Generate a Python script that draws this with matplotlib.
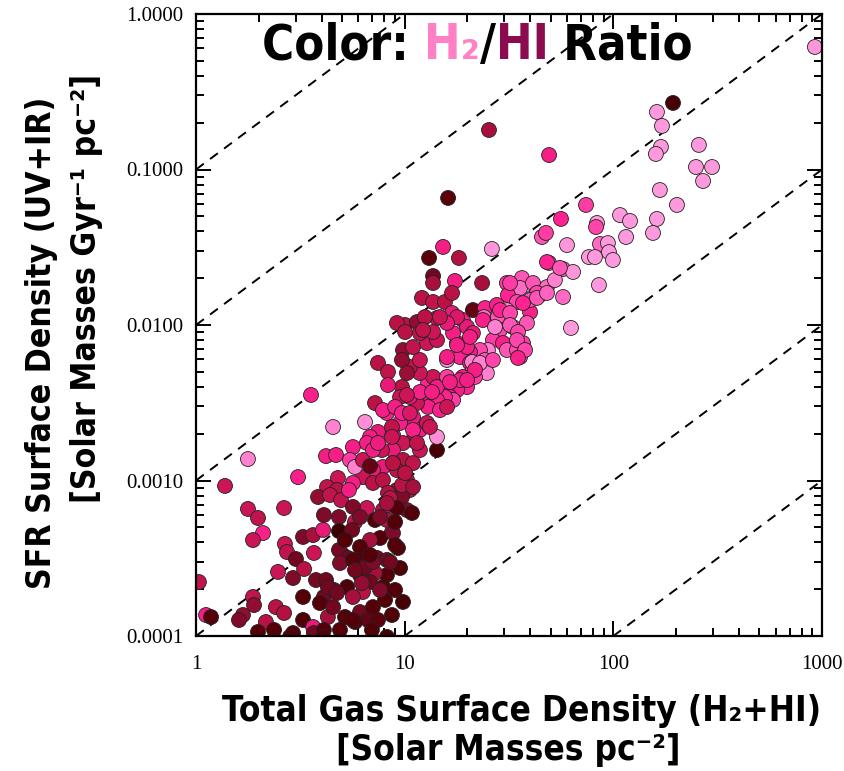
import numpy as np
import matplotlib
matplotlib.use("Agg")
import matplotlib.pyplot as plt
from matplotlib import transforms, font_manager
from matplotlib.font_manager import FontProperties
from matplotlib.colors import LinearSegmentedColormap

# log10 gas surface density, log10 SFR surface density, H2/HI colour level (0 = HI-dominated, 1 = H2-dominated)
log_gas = [2.966, 2.286, 2.209, 2.233, 2.228, 2.204, 2.410, 2.396, 2.473, 2.430,
           2.223, 2.305, 2.209, 2.190, 2.032, 2.080, 2.061, 1.922, 1.917, 1.869,
           1.936, 1.974, 1.979, 1.998, 1.883, 1.912, 1.931, 1.797, 1.749, 1.658,
           1.677, 1.778, 1.692, 1.759, 1.807, 1.418, 1.404, 1.692, 1.208, 1.184,
           1.117, 1.260, 1.136, 1.136, 1.241, 1.371, 1.083, 1.136, 1.193, 1.227,
           1.002, 1.059, 1.155, 1.227, 1.279, 1.327, 1.385, 1.380, 1.442, 1.490,
           1.562, 1.553, 1.615, 1.682, 1.720, 1.759, 1.495, 1.615, 1.648, 1.538,
           1.601, 1.490, 1.447, 1.682, 1.744, 1.634, 1.601, 1.567, 1.505, 1.457,
           1.505, 1.519, 1.586, 1.457, 1.423, 1.471, 1.490, 1.538, 1.553, 1.567,
           1.399, 1.361, 1.385, 1.313, 1.265, 1.313, 1.327, 1.394, 1.279, 1.299,
           1.251, 1.203, 1.251, 1.299, 1.299, 1.251, 1.327, 1.203, 1.217, 1.232,
           1.193, 1.155, 1.112, 1.169, 1.203, 1.088, 1.059, 1.025, 1.112, 1.136,
           1.155, 1.073, 1.025, 1.073, 0.992, 1.040, 1.107, 1.155, 0.987, 1.011,
           0.987, 0.978, 1.097, 1.073, 1.136, 0.963, 1.155, 1.155, 1.073, 1.107,
           1.040, 1.073, 1.040, 0.992, 0.944, 0.891, 0.992, 1.040, 0.944, 0.896,
           0.848, 0.800, 0.848, 0.896, 0.963, 1.011, 1.025, 0.963, 0.920, 0.987,
           1.011, 1.035, 0.872, 0.915, 0.944, 0.978, 0.810, 0.858, 0.896, 0.872,
           0.920, 0.920, 1.002, 1.232, 0.657, 0.551, 0.249, 0.489, 0.623, 0.671,
           0.139, 0.834, 0.752, 0.819, 0.738, 0.762, 0.800, 0.680, 0.752, 0.628,
           0.676, 0.585, 0.642, 0.695, 0.733, 0.819, 0.762, 0.896, 0.930, 0.987,
           0.963, 0.915, 0.858, 0.939, 0.882, 0.834, 0.786, 0.968, 0.867, 0.915,
           0.776, 0.704, 0.978, 0.915, 0.858, 0.786, 0.724, 0.896, 0.834, 0.800,
           0.752, 0.906, 0.992, 0.714, 0.786, 0.824, 0.872, 0.762, 0.915, 0.249,
           0.297, 0.422, 0.321, 0.273, 0.426, 0.436, 0.565, 0.479, 0.513, 0.561,
           0.609, 0.613, 0.685, 0.685, 0.752, 0.393, 0.465, 0.518, 0.014, 0.575,
           0.623, 0.513, 0.613, 0.661, 0.685, 0.728, 0.273, 0.278, 0.225, 0.206,
           0.048, 0.072, 0.383, 0.422, 0.335, 0.374, 0.297, 0.513, 0.465, 0.561,
           0.565, 0.632, 0.613, 0.752, 0.632, 0.690, 0.752, 0.795, 0.676, 0.594,
           0.657, 0.848, 0.450, 0.609, 0.882, 0.810, 0.848, 0.930, 0.944, 0.882,
           0.915, 0.786, 0.848,
           1.251, 1.265, 1.337, 1.203, 1.073, 1.131, 1.011, 0.954, 0.987, 1.025,
           0.939, 1.040, 1.121, 0.872, 0.939, 1.059, 0.834, 0.944, 1.002, 1.040,
           1.088, 1.313, 1.323, 1.203, 1.169, 1.375, 1.433, 1.505, 1.543, 1.538,
           1.577, 1.203, 1.361, 1.423, 1.337, 1.543, 1.299, 1.217, 1.634, 1.682,
           0.748, 0.714, 0.954, 0.939, 0.843, 0.690, 0.954, 0.834, 0.762, 0.954]
log_sfr = [-0.212, -0.572, -0.630, -0.720, -0.855, -0.900, -0.842, -0.984, -0.984, -1.074,
           -1.132, -1.228, -1.318, -1.408, -1.293, -1.331, -1.434, -1.344, -1.370, -1.228,
           -1.479, -1.473, -1.531, -1.582, -1.563, -1.563, -1.743, -2.019, -1.318, -1.434,
           -1.408, -1.486, -1.601, -1.640, -1.659, -1.511, -0.746, -0.907, -1.183, -1.498,
           -1.569, -1.569, -1.685, -1.730, -1.717, -1.730, -1.826, -1.852, -1.852, -1.794,
           -2.000, -1.981, -1.955, -1.923, -1.968, -1.904, -1.891, -1.949, -1.871, -1.730,
           -1.698, -1.762, -1.730, -1.756, -1.711, -1.820, -1.807, -1.820, -1.807, -1.852,
           -1.917, -1.904, -1.949, -1.595, -1.633, -1.794, -1.839, -1.859, -1.730, -1.904,
           -1.923, -2.013, -1.987, -2.032, -2.097, -2.116, -2.161, -2.161, -2.206, -2.116,
           -2.161, -2.161, -2.225, -2.174, -2.206, -2.244, -2.289, -2.309, -2.334, -2.399,
           -2.418, -2.225, -2.116, -2.142, -2.013, -1.949, -2.052, -2.399, -2.463, -2.482,
           -2.463, -2.482, -2.527, -2.547, -2.527, -2.437, -2.502, -2.463, -2.373, -2.334,
           -2.399, -2.309, -2.270, -2.225, -2.161, -2.142, -2.116, -2.097, -2.225, -2.309,
           -2.399, -2.463, -1.949, -2.052, -2.045, -1.987, -2.804, -2.720, -2.675, -2.630,
           -2.592, -2.804, -2.740, -2.759, -2.804, -2.804, -2.868, -2.888, -2.888, -2.913,
           -2.933, -2.978, -3.016, -2.997, -2.933, -2.997, -3.061, -3.061, -3.080, -3.106,
           -3.190, -3.209, -2.688, -2.566, -2.707, -2.630, -2.624, -2.502, -2.547, -2.244,
           -2.302, -2.386, -2.045, -2.052, -2.656, -2.450, -2.862, -2.978, -2.843, -2.836,
           -3.035, -2.720, -2.785, -2.759, -2.868, -2.913, -2.868, -2.984, -3.016, -3.042,
           -3.061, -3.106, -3.093, -3.126, -3.061, -3.177, -3.267, -3.190, -3.113, -3.029,
           -3.177, -3.254, -3.254, -3.331, -3.370, -3.383, -3.428, -3.434, -3.498, -3.511,
           -3.511, -3.479, -3.563, -3.608, -3.595, -3.608, -3.685, -3.685, -3.653, -3.717,
           -3.749, -3.768, -3.781, -3.878, -3.846, -3.897, -3.897, -3.910, -4.006, -3.183,
           -3.241, -3.177, -3.338, -3.383, -3.408, -3.460, -3.466, -3.505, -3.363, -3.351,
           -3.318, -3.222, -3.235, -3.325, -3.170, -3.588, -3.627, -3.569, -3.653, -3.640,
           -3.640, -3.749, -3.749, -3.704, -3.447, -3.498, -3.749, -3.801, -3.865, -3.897,
           -3.865, -3.878, -3.814, -3.852, -3.910, -3.961, -3.974, -3.897, -3.981, -3.942,
           -3.981, -3.878, -3.961, -3.897, -3.685, -3.531, -3.511, -3.659, -3.723, -3.788,
           -3.814, -3.814, -4.006, -4.006, -3.704, -3.556, -3.524, -3.524, -3.338, -3.235,
           -3.145, -3.235, -2.804,
           -2.129, -2.354, -2.334, -2.334, -2.431, -2.431, -2.450, -2.527, -2.566, -2.566,
           -2.656, -2.675, -2.656, -2.759, -2.720, -2.759, -2.907, -2.888, -2.952, -3.042,
           -2.032, -2.077, -2.238, -1.987, -1.949, -1.968, -2.013, -2.000, -2.045, -2.097,
           -2.161, -2.206, -2.244, -2.225, -2.289, -2.212, -2.354, -2.367, -1.826, -1.794,
           -3.318, -3.383, -3.704, -3.865, -3.961, -3.961, -3.267, -3.479, -3.576, -3.415]
h2_level = [0.90, 0.05, 0.92, 0.92, 0.92, 0.92, 0.92, 0.92, 0.92, 0.92,
            0.92, 0.92, 0.92, 0.92, 0.92, 0.92, 0.92, 0.92, 0.72, 0.70,
            0.80, 0.92, 0.92, 0.92, 0.92, 0.92, 0.92, 0.92, 0.65, 0.75,
            0.70, 0.90, 0.75, 0.80, 0.90, 0.90, 0.35, 0.60, 0.12, 0.60,
            0.12, 0.38, 0.20, 0.35, 0.60, 0.35, 0.40, 0.42, 0.40, 0.40,
            0.40, 0.30, 0.45, 0.55, 0.60, 0.15, 0.62, 0.80, 0.62, 0.70,
            0.75, 0.80, 0.75, 0.80, 0.85, 0.80, 0.65, 0.85, 0.75, 0.72,
            0.62, 0.85, 0.75, 0.65, 0.75, 0.72, 0.75, 0.65, 0.70, 0.65,
            0.72, 0.75, 0.75, 0.72, 0.70, 0.62, 0.75, 0.72, 0.75, 0.70,
            0.85, 0.72, 0.75, 0.60, 0.65, 0.60, 0.70, 0.85, 0.60, 0.65,
            0.60, 0.88, 0.55, 0.60, 0.55, 0.50, 0.55, 0.60, 0.60, 0.70,
            0.65, 0.62, 0.60, 0.62, 0.45, 0.60, 0.45, 0.55, 0.65, 0.45,
            0.60, 0.45, 0.40, 0.45, 0.30, 0.42, 0.45, 0.45, 0.30, 0.32,
            0.40, 0.45, 0.40, 0.42, 0.45, 0.40, 0.05, 0.88, 0.60, 0.45,
            0.55, 0.45, 0.42, 0.45, 0.55, 0.45, 0.40, 0.42, 0.40, 0.55,
            0.55, 0.45, 0.40, 0.40, 0.42, 0.40, 0.38, 0.30, 0.38, 0.25,
            0.25, 0.10, 0.55, 0.62, 0.60, 0.60, 0.88, 0.40, 0.60, 0.40,
            0.42, 0.55, 0.40, 0.60, 0.85, 0.62, 0.85, 0.62, 0.60, 0.60,
            0.45, 0.60, 0.60, 0.60, 0.70, 0.85, 0.45, 0.45, 0.60, 0.42,
            0.40, 0.30, 0.42, 0.42, 0.60, 0.45, 0.42, 0.40, 0.40, 0.40,
            0.10, 0.40, 0.10, 0.45, 0.10, 0.35, 0.10, 0.10, 0.20, 0.22,
            0.08, 0.20, 0.08, 0.10, 0.35, 0.20, 0.08, 0.10, 0.20, 0.40,
            0.35, 0.10, 0.05, 0.10, 0.20, 0.15, 0.12, 0.10, 0.05, 0.45,
            0.42, 0.45, 0.62, 0.45, 0.45, 0.42, 0.45, 0.20, 0.25, 0.35,
            0.55, 0.25, 0.25, 0.00, 0.25, 0.45, 0.25, 0.40, 0.42, 0.22,
            0.20, 0.10, 0.20, 0.20, 0.22, 0.20, 0.42, 0.30, 0.30, 0.25,
            0.60, 0.10, 0.40, 0.38, 0.40, 0.10, 0.10, 0.08, 0.10, 0.55,
            0.20, 0.35, 0.10, 0.10, 0.20, 0.25, 0.10, 0.30, 0.20, 0.10,
            0.20, 0.10, 0.08, 0.10, 0.25, 0.20, 0.25, 0.20, 0.25, 0.25,
            0.35, 0.25, 0.60,
            0.60, 0.60, 0.70, 0.70, 0.62, 0.60, 0.45, 0.60, 0.62, 0.50,
            0.42, 0.62, 0.45, 0.58, 0.45, 0.42, 0.15, 0.40, 0.40, 0.35,
            0.42, 0.60, 0.85, 0.55, 0.45, 0.62, 0.85, 0.75, 0.72, 0.72,
            0.72, 0.60, 0.85, 0.72, 0.60, 0.62, 0.60, 0.60, 0.75, 0.78,
            0.20, 0.10, 0.10, 0.08, 0.08, 0.10, 0.10, 0.10, 0.20, 0.10]

# depletion-time guide lines: SFR = gas * factor
depletion_factors = [1e-1, 1e-2, 1e-3, 1e-4, 1e-5, 1e-6]
guide_gas = [1.0, 1000.0]

x_ticks = [1, 10, 100, 1000]
x_ticklabels = ["1", "10", "100", "1000"]
y_ticks = [1e-4, 1e-3, 1e-2, 1e-1, 1.0]
y_ticklabels = ["0.0001", "0.0010", "0.0100", "0.1000", "1.0000"]

xlabel_lines = ["Total Gas Surface Density (H\u2082+HI)", "[Solar Masses pc\u207b\u00b2]"]
ylabel_lines = ["SFR Surface Density (UV+IR)", "[Solar Masses Gyr\u207b\u00b9 pc\u207b\u00b2]"]
title_pieces = [("Color: ", "black"), ("H\u2082", "#ff80c4"), ("/", "black"),
                ("HI", "#8c0a4e"), (" Ratio", "black")]


# find a condensed bold sans for the labels, else plain DejaVu Sans Bold
def pick_label_font():
    good = []
    for f in font_manager.fontManager.ttflist:
        narrow = ("Narrow" in f.name or "Condensed" in f.name
                  or f.stretch in ("condensed", "semi-condensed"))
        w = f.weight if isinstance(f.weight, int) else (700 if "bold" in str(f.weight) else 400)
        if narrow and w >= 600 and "Mono" not in f.name and "Serif" not in f.name:
            good.append(f)
    if good:
        return FontProperties(fname=good[0].fname)
    return FontProperties(family="DejaVu Sans", weight="bold")


label_fp = pick_label_font()

cmap = LinearSegmentedColormap.from_list(
    "h2hi",
    [(0.00, "#3a0004"), (0.10, "#560008"), (0.25, "#800a2a"),
     (0.40, "#bb1245"), (0.55, "#ea1a78"), (0.65, "#ff2290"),
     (0.78, "#ff62bf"), (0.90, "#ff96dc"), (1.00, "#ffa6e6")])

W, H = 845, 771
fig = plt.figure(figsize=(W / 100, H / 100), dpi=100)
ax = fig.add_axes([196 / W, 1 - 636 / H, 626 / W, 622 / H])

gas = 10 ** np.array(log_gas)
sfr = 10 ** np.array(log_sfr)

for f in depletion_factors:
    g = np.array(guide_gas)
    ax.plot(g, g * f, color="black", lw=1.4, ls=(0, (5, 4)), zorder=1)

ax.scatter(gas, sfr, c=h2_level, cmap=cmap, vmin=0, vmax=1, s=115,
           edgecolors="#222222", linewidths=0.6, zorder=2)

ax.set_xscale("log")
ax.set_yscale("log")
ax.set_xlim(1, 1000)
ax.set_ylim(1e-4, 1.0)

ax.set_xticks(x_ticks)
ax.set_xticklabels(x_ticklabels, fontfamily="Liberation Serif", fontsize=15)
ax.set_yticks(y_ticks)
ax.set_yticklabels(y_ticklabels, fontfamily="Liberation Serif", fontsize=15)
ax.tick_params(which="both", direction="in", top=True, right=True, width=1.4)
ax.tick_params(which="major", length=11, pad=9)
ax.tick_params(which="minor", length=6)
ax.tick_params(axis="x", which="major", pad=14)
for sp in ax.spines.values():
    sp.set_linewidth(1.6)

fig.canvas.draw()
renderer = fig.canvas.get_renderer()


def fitted(t, target, vertical=False):
    # scale the font so the text spans the same number of pixels as in the reference
    for _ in range(3):
        ext = t.get_window_extent(renderer)
        span = ext.height if vertical else ext.width
        t.set_fontsize(t.get_fontsize() * target / span)
    return t.get_fontsize()


# x label: two centred lines below the axes
t1 = fig.text(522 / W, 1 - 711 / H, xlabel_lines[0], fontproperties=label_fp,
              fontsize=28, ha="center", va="center")
size_x = fitted(t1, 600)
t2 = fig.text(508 / W, 1 - 750 / H, xlabel_lines[1], fontproperties=label_fp,
              fontsize=size_x, ha="center", va="center")

# y label: two rotated lines left of the axes
t3 = fig.text(42 / W, 1 - 343 / H, ylabel_lines[0], fontproperties=label_fp,
              fontsize=28, ha="center", va="center", rotation=90)
size_y = fitted(t3, 493, vertical=True)
t4 = fig.text(87 / W, 1 - 288 / H, ylabel_lines[1], fontproperties=label_fp,
              fontsize=size_y, ha="center", va="center", rotation=90)

# multicoloured title inside the axes
probe = fig.text(0, 0, "".join(p[0] for p in title_pieces), fontproperties=label_fp, fontsize=30)
size_t = fitted(probe, 431)
probe.remove()
tr = ax.transAxes
for s, col in title_pieces:
    t = ax.text(0.105, 0.950, s, color=col, transform=tr, fontproperties=label_fp,
                fontsize=size_t, va="center", ha="left")
    t.draw(renderer)
    ext = t.get_window_extent(renderer)
    tr = transforms.offset_copy(t.get_transform(), x=ext.width, units="dots")

fig.savefig("out.png", dpi=100)
